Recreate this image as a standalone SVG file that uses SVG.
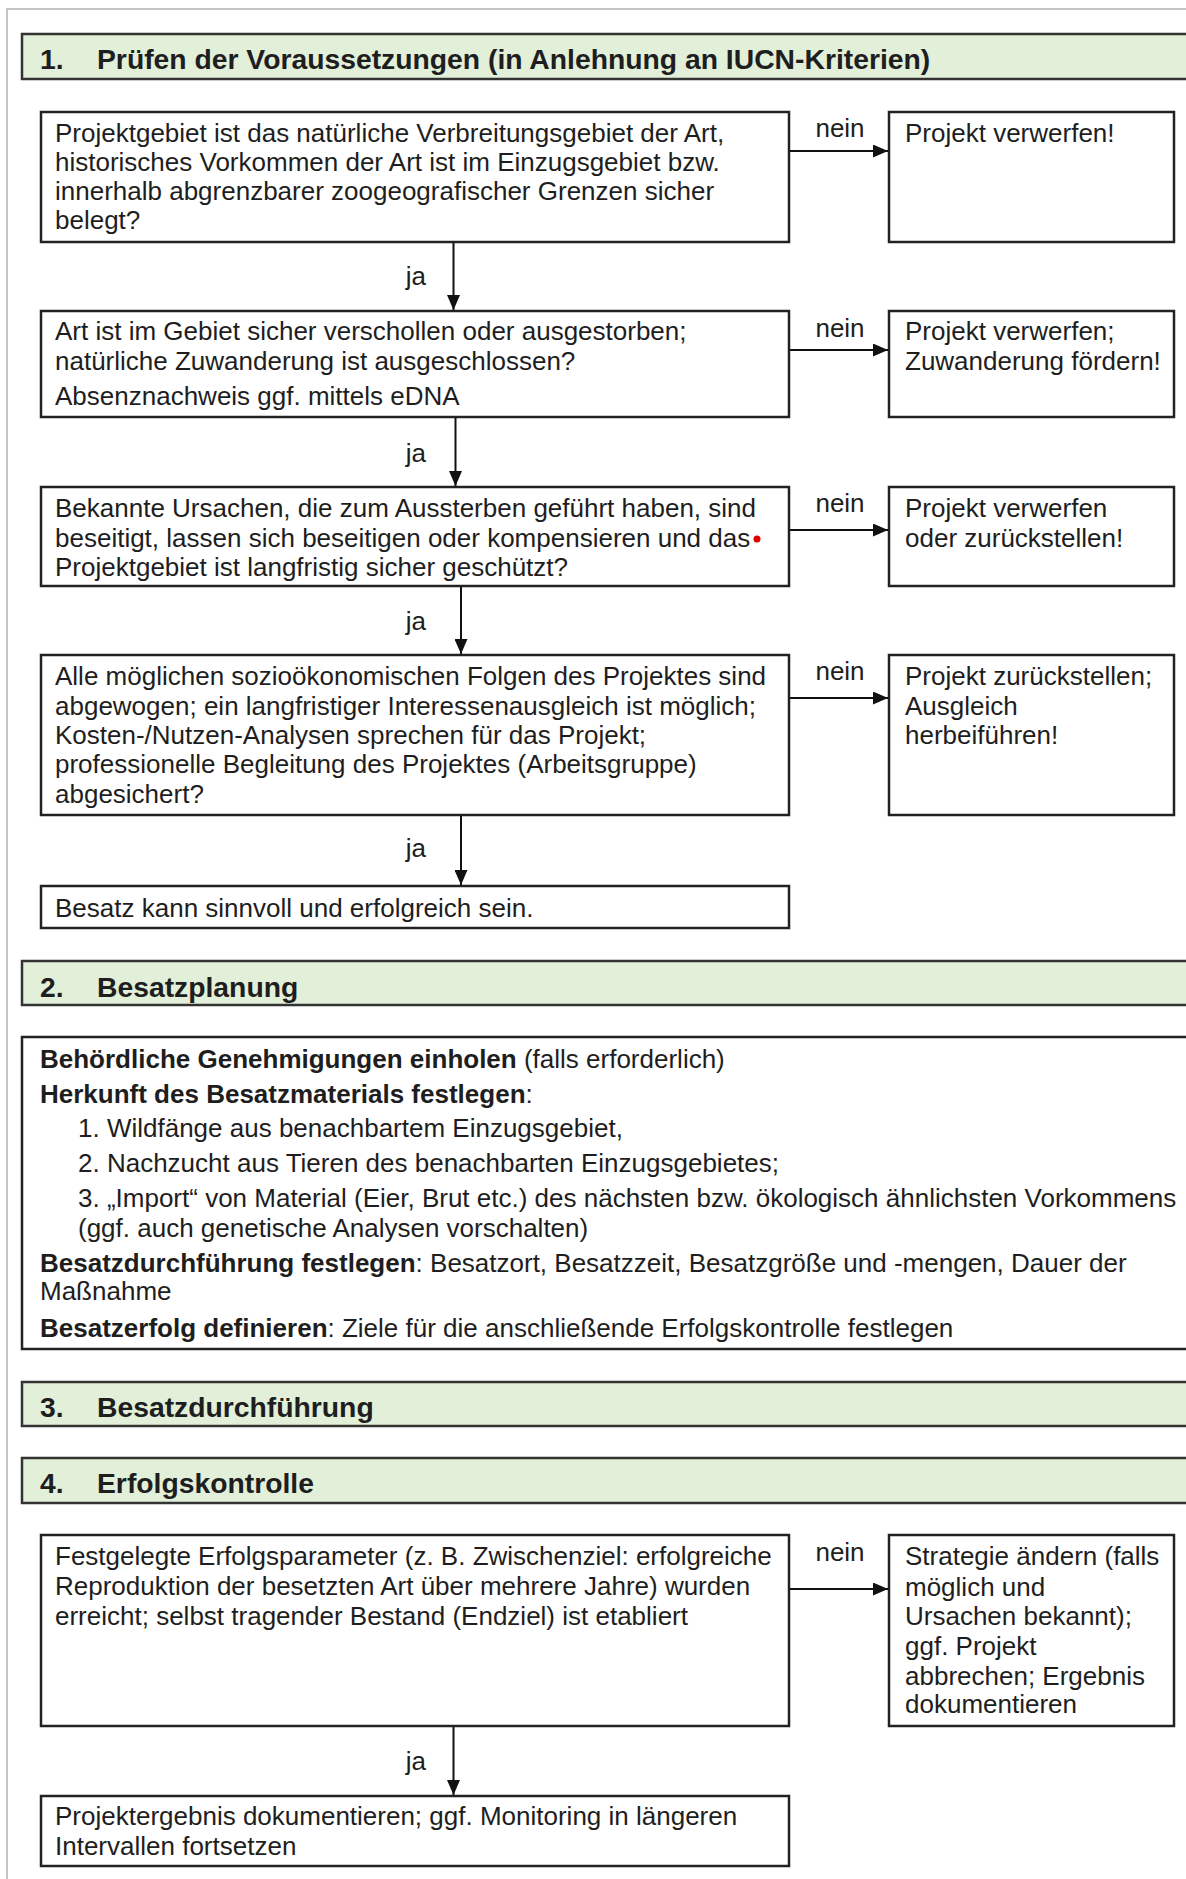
<svg xmlns="http://www.w3.org/2000/svg" width="1186" height="1879" viewBox="0 0 1186 1879">
<style>
text{font-family:"Liberation Sans",Arial,sans-serif;font-size:26px;fill:#1e1e1e}
.h{font-weight:bold;font-size:28.3px}
.b{font-weight:bold}
.lbl{font-size:26px}
.hdr{fill:#e2efd9;stroke:#333;stroke-width:2.5}
.box{fill:#fff;stroke:#222;stroke-width:2.5}
.frame{fill:none;stroke:#c4c4c4;stroke-width:2}
.con{stroke:#111;stroke-width:2;fill:none;marker-end:url(#ah)}
</style>
<defs>
<marker id="ah" viewBox="0 0 15 13" refX="15" refY="6.5" markerUnits="userSpaceOnUse" markerWidth="15" markerHeight="13" orient="auto">
<path d="M0,0 L15,6.5 L0,13 z" fill="#111"/>
</marker>
</defs>
<rect width="1186" height="1879" fill="#fff"/>
<rect class="frame" x="7" y="9" width="1200" height="1900"/>

<g id="header1"><rect class="hdr" x="22" y="34" width="1190" height="45"/><text class="h" x="40" y="69">1.</text><text class="h" x="97" y="69">Prüfen der Voraussetzungen (in Anlehnung an IUCN-Kriterien)</text></g>

<g id="q1"><rect class="box" x="41" y="112" width="748" height="130"/>
<text x="55" y="142">Projektgebiet ist das natürliche Verbreitungsgebiet der Art,</text>
<text x="55" y="171">historisches Vorkommen der Art ist im Einzugsgebiet bzw.</text>
<text x="55" y="200">innerhalb abgrenzbarer zoogeografischer Grenzen sicher</text>
<text x="55" y="229">belegt?</text></g>
<g id="n1"><rect class="box" x="889" y="112" width="285" height="130"/><text x="905" y="142">Projekt verwerfen!</text></g>

<g id="q2"><rect class="box" x="41" y="311" width="748" height="106"/>
<text x="55" y="340">Art ist im Gebiet sicher verschollen oder ausgestorben;</text>
<text x="55" y="370">natürliche Zuwanderung ist ausgeschlossen?</text>
<text x="55" y="405">Absenznachweis ggf. mittels eDNA</text></g>
<g id="n2"><rect class="box" x="889" y="311" width="285" height="106"/><text x="905" y="340">Projekt verwerfen;</text><text x="905" y="370">Zuwanderung fördern!</text></g>

<g id="q3"><rect class="box" x="41" y="487" width="748" height="99"/>
<text x="55" y="517">Bekannte Ursachen, die zum Aussterben geführt haben, sind</text>
<text x="55" y="547">beseitigt, lassen sich beseitigen oder kompensieren und das</text>
<text x="55" y="576">Projektgebiet ist langfristig sicher geschützt?</text>
<circle cx="757" cy="539" r="3.5" fill="#e00000"/></g>
<g id="n3"><rect class="box" x="889" y="487" width="285" height="99"/><text x="905" y="517">Projekt verwerfen</text><text x="905" y="547">oder zurückstellen!</text></g>

<g id="q4"><rect class="box" x="41" y="655" width="748" height="160"/>
<text x="55" y="685">Alle möglichen sozioökonomischen Folgen des Projektes sind</text>
<text x="55" y="715">abgewogen; ein langfristiger Interessenausgleich ist möglich;</text>
<text x="55" y="744">Kosten-/Nutzen-Analysen sprechen für das Projekt;</text>
<text x="55" y="773">professionelle Begleitung des Projektes (Arbeitsgruppe)</text>
<text x="55" y="803">abgesichert?</text></g>
<g id="n4"><rect class="box" x="889" y="655" width="285" height="160"/><text x="905" y="685">Projekt zurückstellen;</text><text x="905" y="715">Ausgleich</text><text x="905" y="744">herbeiführen!</text></g>

<g id="r1"><rect class="box" x="41" y="886" width="748" height="42"/><text x="55" y="917">Besatz kann sinnvoll und erfolgreich sein.</text></g>

<g id="header2"><rect class="hdr" x="22" y="961" width="1190" height="44"/><text class="h" x="40" y="997">2.</text><text class="h" x="97" y="997">Besatzplanung</text></g>

<g id="planung"><rect class="box" x="22" y="1037" width="1190" height="312"/>
<text x="40" y="1068"><tspan class="b">Behördliche Genehmigungen einholen</tspan> (falls erforderlich)</text>
<text x="40" y="1103"><tspan class="b">Herkunft des Besatzmaterials festlegen</tspan>:</text>
<text x="78" y="1137">1. Wildfänge aus benachbartem Einzugsgebiet,</text>
<text x="78" y="1172">2. Nachzucht aus Tieren des benachbarten Einzugsgebietes;</text>
<text x="78" y="1207">3. „Import“ von Material (Eier, Brut etc.) des nächsten bzw. ökologisch ähnlichsten Vorkommens</text>
<text x="78" y="1237">(ggf. auch genetische Analysen vorschalten)</text>
<text x="40" y="1272"><tspan class="b">Besatzdurchführung festlegen</tspan>: Besatzort, Besatzzeit, Besatzgröße und -mengen, Dauer der</text>
<text x="40" y="1300">Maßnahme</text>
<text x="40" y="1337"><tspan class="b">Besatzerfolg definieren</tspan>: Ziele für die anschließende Erfolgskontrolle festlegen</text></g>

<g id="header3"><rect class="hdr" x="22" y="1382" width="1190" height="44"/><text class="h" x="40" y="1417">3.</text><text class="h" x="97" y="1417">Besatzdurchführung</text></g>
<g id="header4"><rect class="hdr" x="22" y="1458" width="1190" height="45"/><text class="h" x="40" y="1493">4.</text><text class="h" x="97" y="1493">Erfolgskontrolle</text></g>

<g id="q5"><rect class="box" x="41" y="1535" width="748" height="191"/>
<text x="55" y="1565">Festgelegte Erfolgsparameter (z. B. Zwischenziel: erfolgreiche</text>
<text x="55" y="1595">Reproduktion der besetzten Art über mehrere Jahre) wurden</text>
<text x="55" y="1625">erreicht; selbst tragender Bestand (Endziel) ist etabliert</text></g>
<g id="n5"><rect class="box" x="889" y="1535" width="285" height="191"/>
<text x="905" y="1565">Strategie ändern (falls</text>
<text x="905" y="1596">möglich und</text>
<text x="905" y="1625">Ursachen bekannt);</text>
<text x="905" y="1655">ggf. Projekt</text>
<text x="905" y="1685">abbrechen; Ergebnis</text>
<text x="905" y="1713">dokumentieren</text></g>

<g id="r2"><rect class="box" x="41" y="1796" width="748" height="70"/>
<text x="55" y="1825">Projektergebnis dokumentieren; ggf. Monitoring in längeren</text>
<text x="55" y="1855">Intervallen fortsetzen</text></g>

<g id="connectors">
<line class="con" x1="453.5" y1="243" x2="453.5" y2="310"/>
<line class="con" x1="455.5" y1="418" x2="455.5" y2="486"/>
<line class="con" x1="461" y1="587" x2="461" y2="654"/>
<line class="con" x1="461" y1="816" x2="461" y2="885"/>
<line class="con" x1="453.5" y1="1727" x2="453.5" y2="1795"/>
<line class="con" x1="790" y1="151" x2="888" y2="151"/>
<line class="con" x1="790" y1="350" x2="888" y2="350"/>
<line class="con" x1="790" y1="530" x2="888" y2="530"/>
<line class="con" x1="790" y1="698" x2="888" y2="698"/>
<line class="con" x1="790" y1="1589" x2="888" y2="1589"/>
<g class="lbls">
<text class="lbl" x="426" y="285" text-anchor="end">ja</text>
<text class="lbl" x="426" y="462" text-anchor="end">ja</text>
<text class="lbl" x="426" y="630" text-anchor="end">ja</text>
<text class="lbl" x="426" y="857" text-anchor="end">ja</text>
<text class="lbl" x="426" y="1770" text-anchor="end">ja</text>
<text class="lbl" x="840" y="137" text-anchor="middle">nein</text>
<text class="lbl" x="840" y="337" text-anchor="middle">nein</text>
<text class="lbl" x="840" y="512" text-anchor="middle">nein</text>
<text class="lbl" x="840" y="680" text-anchor="middle">nein</text>
<text class="lbl" x="840" y="1561" text-anchor="middle">nein</text>
</g>
</g>
</svg>
